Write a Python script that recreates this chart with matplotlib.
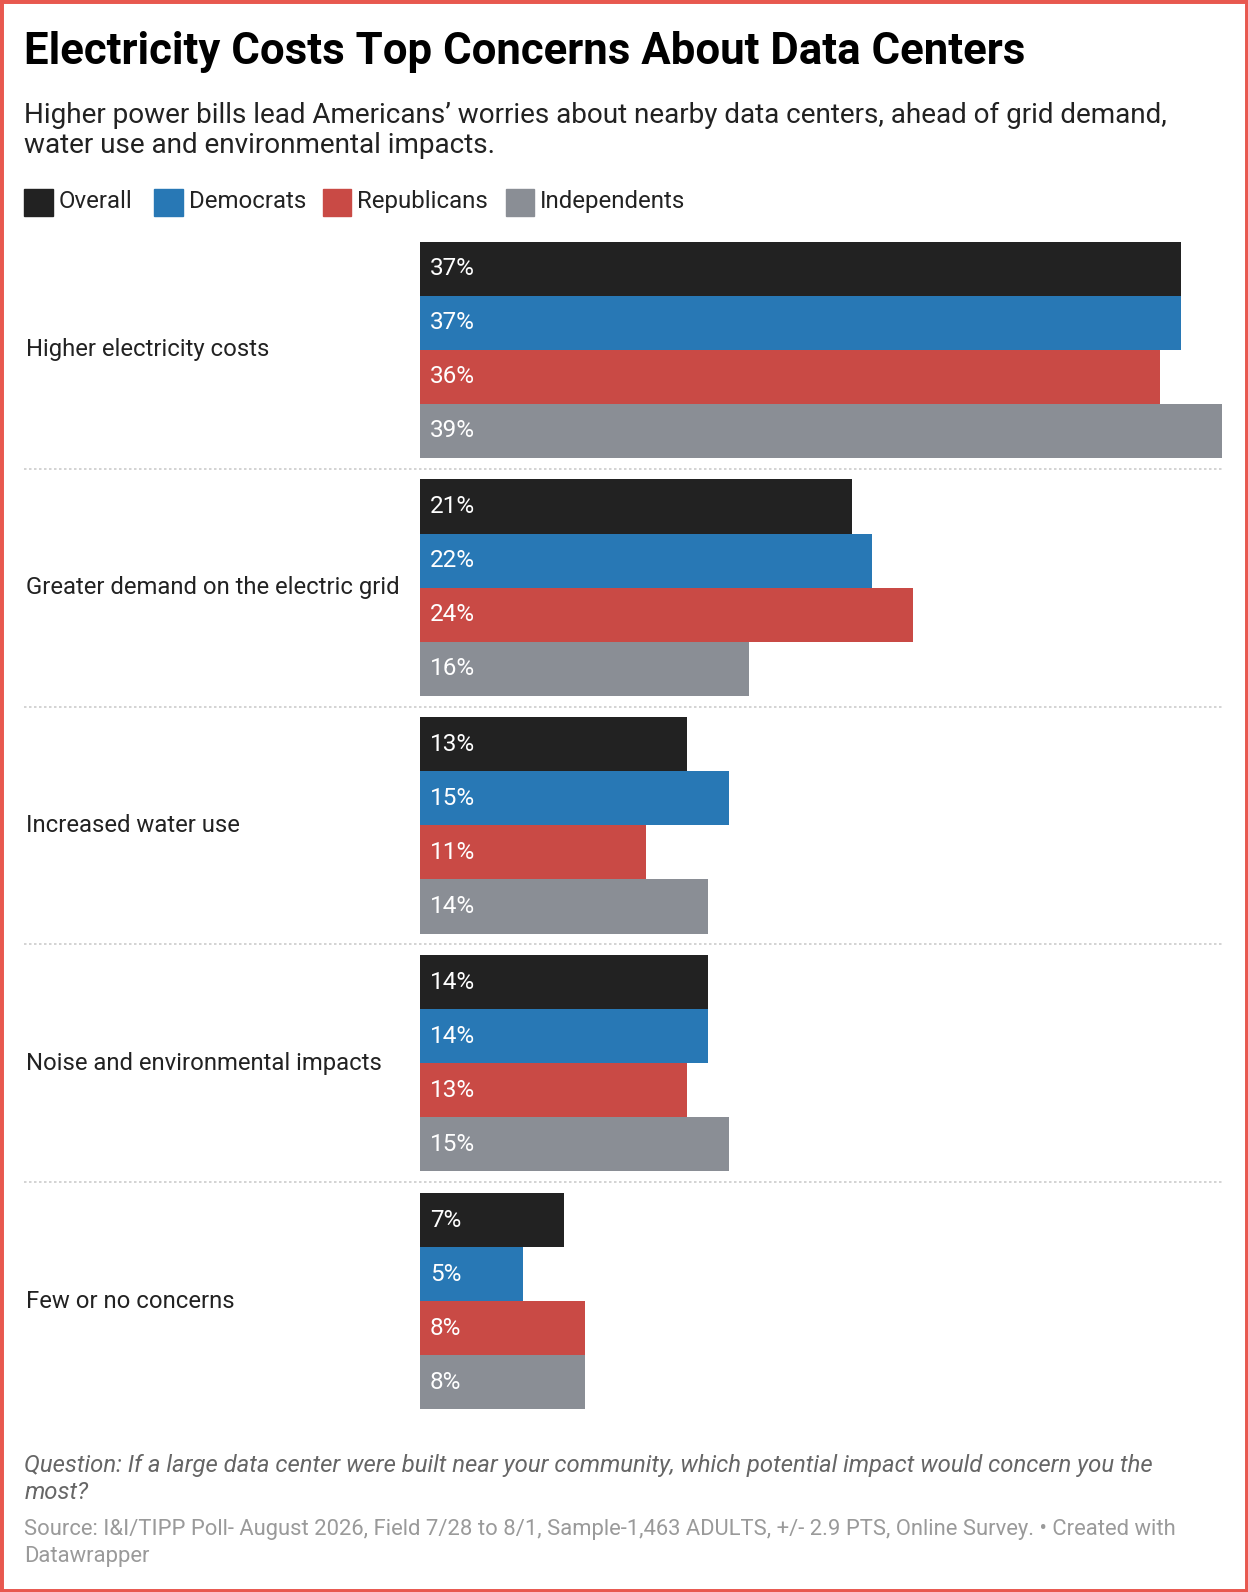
import matplotlib
matplotlib.use("Agg")
import matplotlib.pyplot as plt
from matplotlib.patches import Rectangle

plt.rcParams['font.family'] = ['Roboto', 'DejaVu Sans']

# data
categories = ["Higher electricity costs", "Greater demand on the electric grid",
              "Increased water use", "Noise and environmental impacts",
              "Few or no concerns"]
groups = ["Overall", "Democrats", "Republicans", "Independents"]
overall = [37, 21, 13, 14, 7]
democrats = [37, 22, 15, 14, 5]
republicans = [36, 24, 11, 13, 8]
independents = [39, 16, 14, 15, 8]
series = [overall, democrats, republicans, independents]
colors = ["#222222", "#2878b5", "#c94a45", "#8a8e95"]

W, H = 1229, 1568  # reference pixel space


def fx(px):
    return px / W


def fy(py):
    return 1 - py / H


fig = plt.figure(figsize=(12.48, 15.92), dpi=100)

# border
fig.patches.append(Rectangle((0, 0), 1, 1, transform=fig.transFigure,
                             fill=False, edgecolor="#e8584f", linewidth=5))

fig.text(fx(24), fy(63), "Electricity Costs Top Concerns About Data Centers",
         fontsize=31.5, fontweight="bold", color="#000000", va="baseline")
fig.text(fx(24), fy(121), "Higher power bills lead Americans\u2019 worries about nearby data centers, ahead of grid demand,",
         fontsize=20.1, color="#222222", va="baseline")
fig.text(fx(24), fy(151), "water use and environmental impacts.",
         fontsize=20.1, color="#222222", va="baseline")

# legend
leg_x = [24, 152, 318, 498]
for lx, name, c in zip(leg_x, groups, colors):
    fig.patches.append(Rectangle((fx(lx), fy(213)), fx(28), 27 / H,
                                 transform=fig.transFigure, color=c))
    fig.text(fx(lx + 34), fy(205), name, fontsize=17.3, color="#222222", va="baseline")

# bars
x0, x1 = 414, 1203
top, bottom = 238, 1388
gap = 0.4
pitch = 4 + gap
total = len(categories) * 4 + (len(categories) - 1) * gap
ax = fig.add_axes([fx(x0), fy(bottom), fx(x1 - x0), (bottom - top) / H])
ax.set_xlim(0, max(independents))
ax.set_ylim(total, 0)
ax.axis("off")

lab_x = (26 - x0) / (x1 - x0)
line_x = (24 - x0) / (x1 - x0)
for i, cat in enumerate(categories):
    base = i * pitch
    for j, vals in enumerate(series):
        yc = base + j + 0.5
        ax.barh(yc, vals[i], height=1.0, color=colors[j], linewidth=0)
        ax.text(0.47, yc, f"{vals[i]}%", color="white", fontsize=17.5,
                va="center", ha="left")
    ax.text(lab_x, base + 2, cat, transform=ax.get_yaxis_transform(),
            fontsize=17.2, color="#222222", va="center", ha="left")
    if i < len(categories) - 1:
        ax.plot([line_x, 1], [base + 4 + gap / 2] * 2, transform=ax.get_yaxis_transform(),
                color="#cccccc", linewidth=1.2, linestyle=(0, (1.5, 1.5)), clip_on=False)

# footer
fig.text(fx(24), fy(1450), "Question: If a large data center were built near your community, which potential impact would concern you the",
         fontsize=17.2, style="italic", color="#666666", va="baseline")
fig.text(fx(24), fy(1476), "most?", fontsize=17.2, style="italic", color="#666666", va="baseline")
fig.text(fx(24), fy(1512), "Source: I&I/TIPP Poll- August 2026, Field 7/28 to 8/1, Sample-1,463 ADULTS, +/- 2.9 PTS, Online Survey. \u2022 Created with",
         fontsize=15.8, color="#9a9a9a", va="baseline")
fig.text(fx(24), fy(1538), "Datawrapper", fontsize=15.8, color="#9a9a9a", va="baseline")

fig.savefig("out.png", dpi=100, facecolor="white")
